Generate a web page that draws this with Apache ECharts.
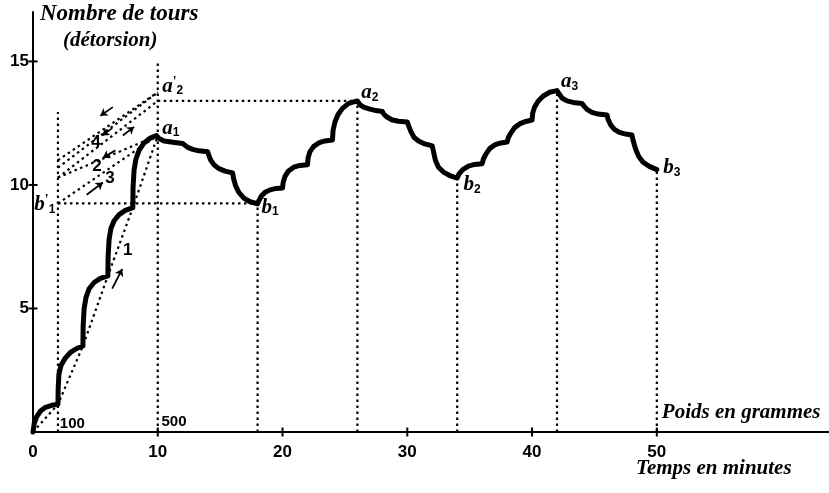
<!DOCTYPE html>
<html><head><meta charset="utf-8">
<script src="https://cdn.jsdelivr.net/npm/echarts@6/dist/echarts.min.js"></script>
<style>html,body{margin:0;padding:0;background:#fff}#c{width:829px;height:493px}</style>
</head><body><div id="c"></div>
<script>
// ---- data ----
const xTickLabels = [0, 10, 20, 30, 40, 50];      // Temps en minutes
const yTickLabels = [5, 10, 15];                  // Nombre de tours
const xTickMarks = [10, 20, 30, 40, 50];
// détorsion curve: [minutes, tours]
const detorsion = [
  [0,0],[0.1,0.35],[0.3,0.62],[0.6,0.85],[1.0,1.0],[1.5,1.08],[2,1.12],
  [2.02,1.8],[2.08,2.35],[2.25,2.7],[2.6,3.0],[3.0,3.22],[3.5,3.38],[4,3.48],
  [4.02,4.3],[4.1,5.0],[4.25,5.45],[4.5,5.8],[4.9,6.05],[5.4,6.22],[6,6.32],
  [6.02,7.1],[6.1,7.8],[6.25,8.25],[6.5,8.55],[6.9,8.8],[7.4,8.97],[8,9.08],
  [8.02,9.9],[8.1,10.6],[8.25,11.05],[8.5,11.4],[8.9,11.7],[9.4,11.9],[9.9,12.0],
  [10.1,11.88],[10.5,11.78],[11.2,11.73],[12,11.68],
  [12.15,11.6],[12.4,11.52],[12.8,11.44],[13.3,11.38],[14,11.34],
  [14.1,11.18],[14.25,11.0],[14.5,10.82],[14.9,10.66],[15.4,10.56],[16,10.49],
  [16.08,10.25],[16.25,9.95],[16.5,9.7],[16.9,9.47],[17.4,9.32],[18,9.24],
  [18.1,9.36],[18.3,9.55],[18.6,9.7],[19.0,9.8],[19.5,9.86],[20,9.88],
  [20.05,10.1],[20.2,10.35],[20.45,10.55],[20.9,10.72],[21.4,10.79],[22,10.82],
  [22.05,11.1],[22.2,11.35],[22.5,11.56],[22.9,11.7],[23.4,11.78],[24,11.82],
  [24.05,12.2],[24.2,12.55],[24.45,12.85],[24.8,13.1],[25.3,13.3],[26,13.4],
  [26.2,13.25],[26.5,13.15],[27,13.07],[27.5,13.01],[28,12.97],
  [28.15,12.85],[28.4,12.74],[28.8,12.63],[29.3,12.58],[30,12.55],
  [30.1,12.4],[30.3,12.15],[30.55,11.92],[30.9,11.78],[31.4,11.66],[32,11.58],
  [32.1,11.35],[32.25,11.0],[32.5,10.72],[32.9,10.52],[33.4,10.38],[34,10.28],
  [34.15,10.45],[34.45,10.62],[34.9,10.76],[35.4,10.83],[36,10.86],
  [36.1,11.05],[36.3,11.25],[36.6,11.47],[37.0,11.62],[37.5,11.7],[38,11.74],
  [38.1,11.92],[38.3,12.1],[38.6,12.32],[39.0,12.47],[39.5,12.57],[40,12.63],
  [40.05,12.9],[40.2,13.15],[40.5,13.4],[40.9,13.6],[41.4,13.75],[42,13.82],
  [42.15,13.7],[42.4,13.52],[42.8,13.4],[43.3,13.34],[44,13.3],
  [44.15,13.2],[44.4,13.06],[44.8,12.94],[45.3,12.87],[46,12.83],
  [46.1,12.65],[46.3,12.43],[46.6,12.25],[47.0,12.13],[47.5,12.06],[48,12.02],
  [48.1,11.8],[48.3,11.45],[48.55,11.15],[48.9,10.92],[49.4,10.75],[50,10.62]
];
// dotted guide lines
const verticalX   = [2, 10, 18, 26, 34, 42, 50];
const verticalTop = [12.95, 15.0, 9.25, 13.4, 10.28, 13.82, 10.62];
const horizFromX  = [2, 10];
const horizToX    = [18, 26];
const horizY      = [9.25, 13.4];
const chord       = [[0,0],[2,1.12],[4,3.48],[6,6.32],[8,9.08],[10,12.0]];
const fanFromX = 2, fanToX = 10;
const fanLeftY    = [11.0, 10.7, 10.3, 10.3, 9.25];
const fanRightY   = [13.75, 13.75, 13.4, 12.0, 12.0];
// arrows [x0,y0,x1,y1]
const arrows = [
  [6.35,5.8,7.15,6.6],
  [6.4,13.15,5.4,12.8],
  [6.35,12.3,5.55,12.0],
  [7.2,12.0,8.1,12.35],
  [6.6,11.4,5.6,11.1],
  [4.3,9.6,5.6,10.1]
];
// letter labels [x, y, letter, prime, index]
const pointLabels = [
  [11.2, 14.0, 'a', "'", '2'],
  [11.05, 12.3, 'a', '', '1'],
  [0.95, 9.2, 'b', "'", '1'],
  [19.0, 9.1, 'b', '', '1'],
  [27.0, 13.75, 'a', '', '2'],
  [35.2, 10.0, 'b', '', '2'],
  [43.0, 14.17, 'a', '', '3'],
  [51.2, 10.7, 'b', '', '3']
];
const stepNumbers = [[7.6, 7.37, '1'], [5.05, 11.74, '4'], [5.13, 10.77, '2'], [6.17, 10.28, '3']];
const weightLabels = [[3.15, 0.32, '100'], [11.3, 0.4, '500']];
const weightTitle = [50.4, 0.78, 'Poids en grammes'];
const yTitle1 = 'Nombre de tours';
const yTitle2 = '(détorsion)';
const xTitle = 'Temps en minutes';

// ---- build ----
const SCRIPT = 'Liberation Serif';
const guides = [];
verticalX.forEach((x, i) => guides.push({coords: [[x, 0], [x, verticalTop[i]]]}));
horizY.forEach((y, i) => guides.push({coords: [[horizFromX[i], y], [horizToX[i], y]]}));
guides.push({coords: chord});
fanLeftY.forEach((y, i) => guides.push({coords: [[fanFromX, y], [fanToX, fanRightY[i]]]}));

const arrowData = arrows.map(a => ({coords: [[a[0], a[1]], [a[2], a[3]]]}));

const textStyleRich = {
  m: {fontFamily: SCRIPT, fontStyle: 'italic', fontWeight: 'bold', fontSize: 21, color: '#000'},
  p: {fontFamily: SCRIPT, fontWeight: 'bold', fontSize: 14, color: '#000', padding: [0, 0, 8, 0]},
  s: {fontFamily: 'Liberation Sans', fontWeight: 'bold', fontSize: 12, color: '#000', padding: [10, 0, 0, 0]},
  n: {fontFamily: 'Liberation Sans', fontWeight: 'bold', fontSize: 17, color: '#000'},
  w: {fontFamily: 'Liberation Sans', fontWeight: 'bold', fontSize: 15, color: '#000'},
  t: {fontFamily: SCRIPT, fontStyle: 'italic', fontWeight: 'bold', fontSize: 21, color: '#000'}
};
const labelData = [];
pointLabels.forEach(p => labelData.push({value: [p[0], p[1]],
  label: {formatter: '{m|' + p[2] + '}' + (p[3] ? '{p|' + p[3] + '}' : '') + '{s|' + p[4] + '}'}}));
stepNumbers.forEach(p => labelData.push({value: [p[0], p[1]], label: {formatter: '{n|' + p[2] + '}'}}));
weightLabels.forEach(p => labelData.push({value: [p[0], p[1]], label: {formatter: '{w|' + p[2] + '}'}}));
labelData.push({value: [weightTitle[0], weightTitle[1]], label: {formatter: '{t|' + weightTitle[2] + '}', align: 'left'}});

const tickData = [];
xTickMarks.forEach(x => tickData.push({value: [x, 0], symbolSize: [2, 9]}));
yTickLabels.forEach(y => tickData.push({value: [0, y], symbolSize: [9, 2]}));

const chart = echarts.init(document.getElementById('c'), null, {renderer: 'canvas'});
chart.setOption({
  animation: false,
  backgroundColor: '#fff',
  grid: {left: 33, right: 0, top: 12, bottom: 61, containLabel: false},
  xAxis: {
    type: 'value', min: 0, max: 63.8, interval: 10,
    axisLine: {show: true, lineStyle: {color: '#000', width: 2}},
    axisTick: {show: false}, splitLine: {show: false},
    axisLabel: {margin: 12, color: '#000', fontFamily: 'Liberation Sans', fontWeight: 'bold', fontSize: 17,
      showMaxLabel: false,
      formatter: v => xTickLabels.indexOf(v) >= 0 ? String(v) : ''}
  },
  yAxis: {
    type: 'value', min: 0, max: 17, interval: 5,
    axisLine: {show: true, lineStyle: {color: '#000', width: 2}},
    axisTick: {show: false}, splitLine: {show: false},
    axisLabel: {margin: 4, color: '#000', fontFamily: 'Liberation Sans', fontWeight: 'bold', fontSize: 17,
      showMaxLabel: false,
      formatter: v => yTickLabels.indexOf(v) >= 0 ? String(v) : ''}
  },
  graphic: [
    {type: 'text', left: 40, top: 3, style: {text: yTitle1, font: 'italic bold 23px "Liberation Serif"', fill: '#000'}},
    {type: 'text', left: 63, top: 30, style: {text: yTitle2, font: 'italic bold 21px "Liberation Serif"', fill: '#000'}},
    {type: 'text', left: 636, top: 458, style: {text: xTitle, font: 'italic bold 21px "Liberation Serif"', fill: '#000'}}
  ],
  series: [
    {type: 'lines', coordinateSystem: 'cartesian2d', polyline: true, silent: true,
      lineStyle: {color: '#000', width: 2.2, type: [2.5, 3.5], opacity: 1},
      data: guides, z: 2},
    {type: 'lines', coordinateSystem: 'cartesian2d', silent: true,
      symbol: ['none', 'arrow'], symbolSize: 7,
      lineStyle: {color: '#000', width: 1.8, opacity: 1},
      data: arrowData, z: 3},
    {type: 'line', data: detorsion, showSymbol: false, smooth: false, clip: false,
      lineStyle: {color: '#000', width: 5, join: 'round', cap: 'round'}, z: 5},
    {type: 'scatter', data: tickData, symbol: 'rect', clip: false, itemStyle: {color: '#000', opacity: 1}, z: 4, silent: true},
    {type: 'scatter', data: labelData, symbolSize: 0, clip: false, silent: true, z: 6,
      itemStyle: {color: '#000', opacity: 1},
      label: {show: true, position: 'inside', align: 'center', verticalAlign: 'middle', color: '#000', opacity: 1,
        textBorderWidth: 0, rich: textStyleRich}}
  ]
});
</script></body></html>
